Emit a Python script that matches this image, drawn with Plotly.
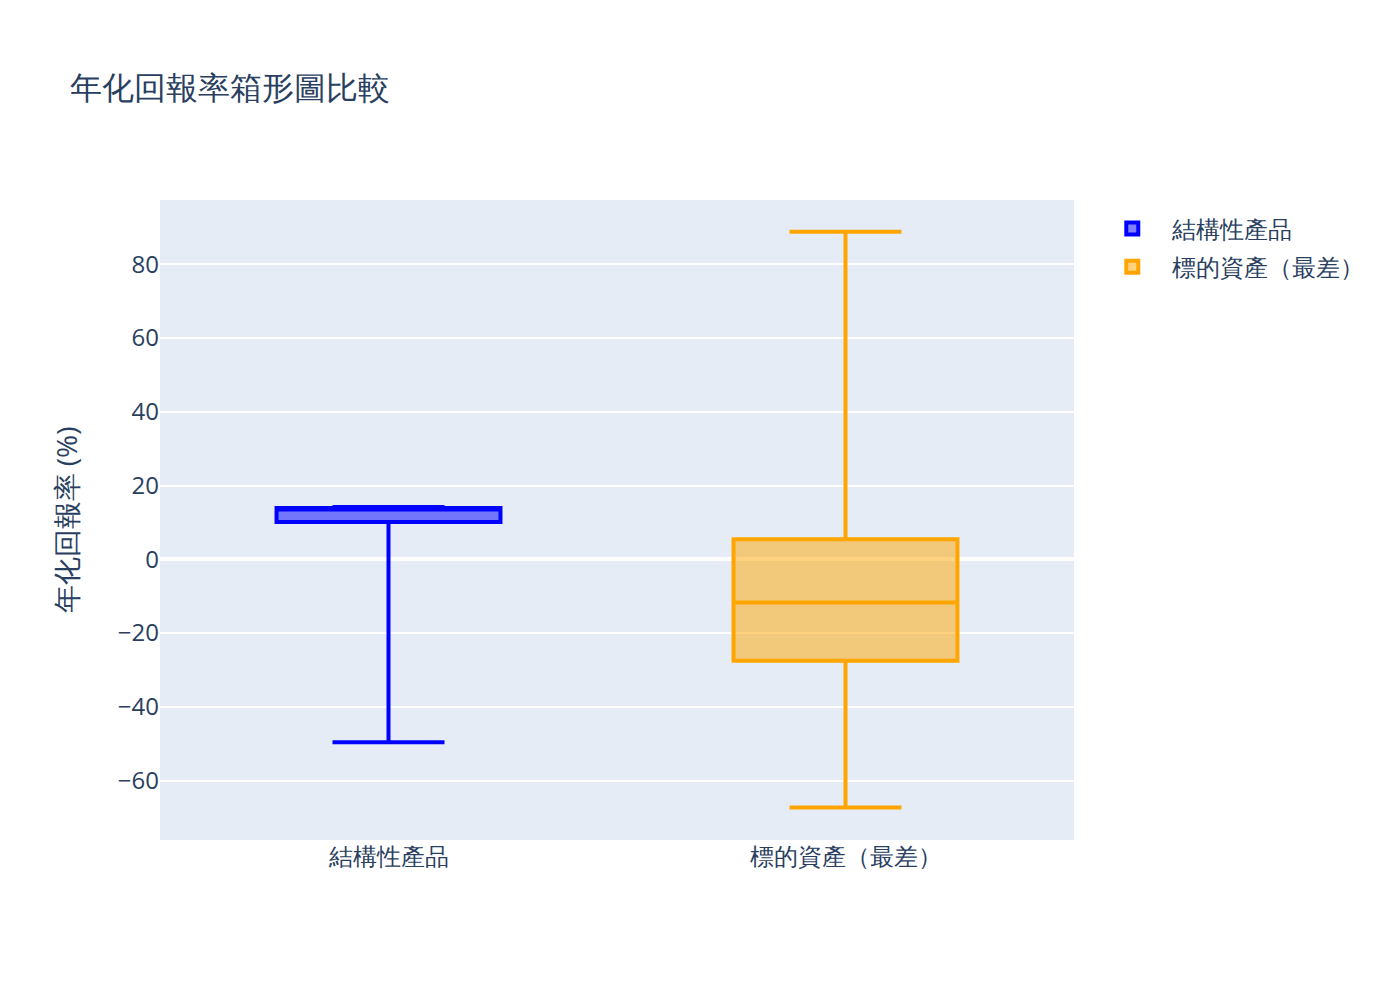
import plotly.graph_objects as go

# box statistics (annualised return, %)
names = ["結構性產品", "標的資產（最差）"]
colors = ["blue", "orange"]
lower_fence = [-49.6, -67.3]
q1 = [10.1, -27.5]
median = [13.5, -11.7]
q3 = [13.9, 5.4]
upper_fence = [14.2, 88.8]

fig = go.Figure()

for i, name in enumerate(names):
    fig.add_trace(
        go.Box(
            x=[name],
            lowerfence=[lower_fence[i]],
            q1=[q1[i]],
            median=[median[i]],
            q3=[q3[i]],
            upperfence=[upper_fence[i]],
            name=name,
            marker_color=colors[i],
            line=dict(color=colors[i], width=4),
            boxpoints=False,
            legendgroup=str(i),
        )
    )

# page body adds an 8px margin, so the figure is 1392x992
# and every default size is doubled
W, H = 1392, 992
fig.update_layout(
    width=W,
    height=H,
    template="plotly",
    font=dict(size=24),
    title=dict(
        text="年化回報率箱形圖比較",
        font=dict(size=32),
        x=62 / W,
        xanchor="left",
        y=1 - 80 / H,
        yanchor="middle",
    ),
    margin=dict(l=152, r=326, t=192, b=160),
    legend=dict(itemwidth=70, tracegroupgap=4, y=0.99, yanchor="top"),
    showlegend=True,
)
fig.update_xaxes(showgrid=False)
fig.update_yaxes(
    title=dict(text="年化回報率 (%)", font=dict(size=28), standoff=32),
    range=[-76.1, 97.4],
    gridwidth=2,
    zerolinewidth=4,
    dtick=20,
)

fig.write_html("out.html")
